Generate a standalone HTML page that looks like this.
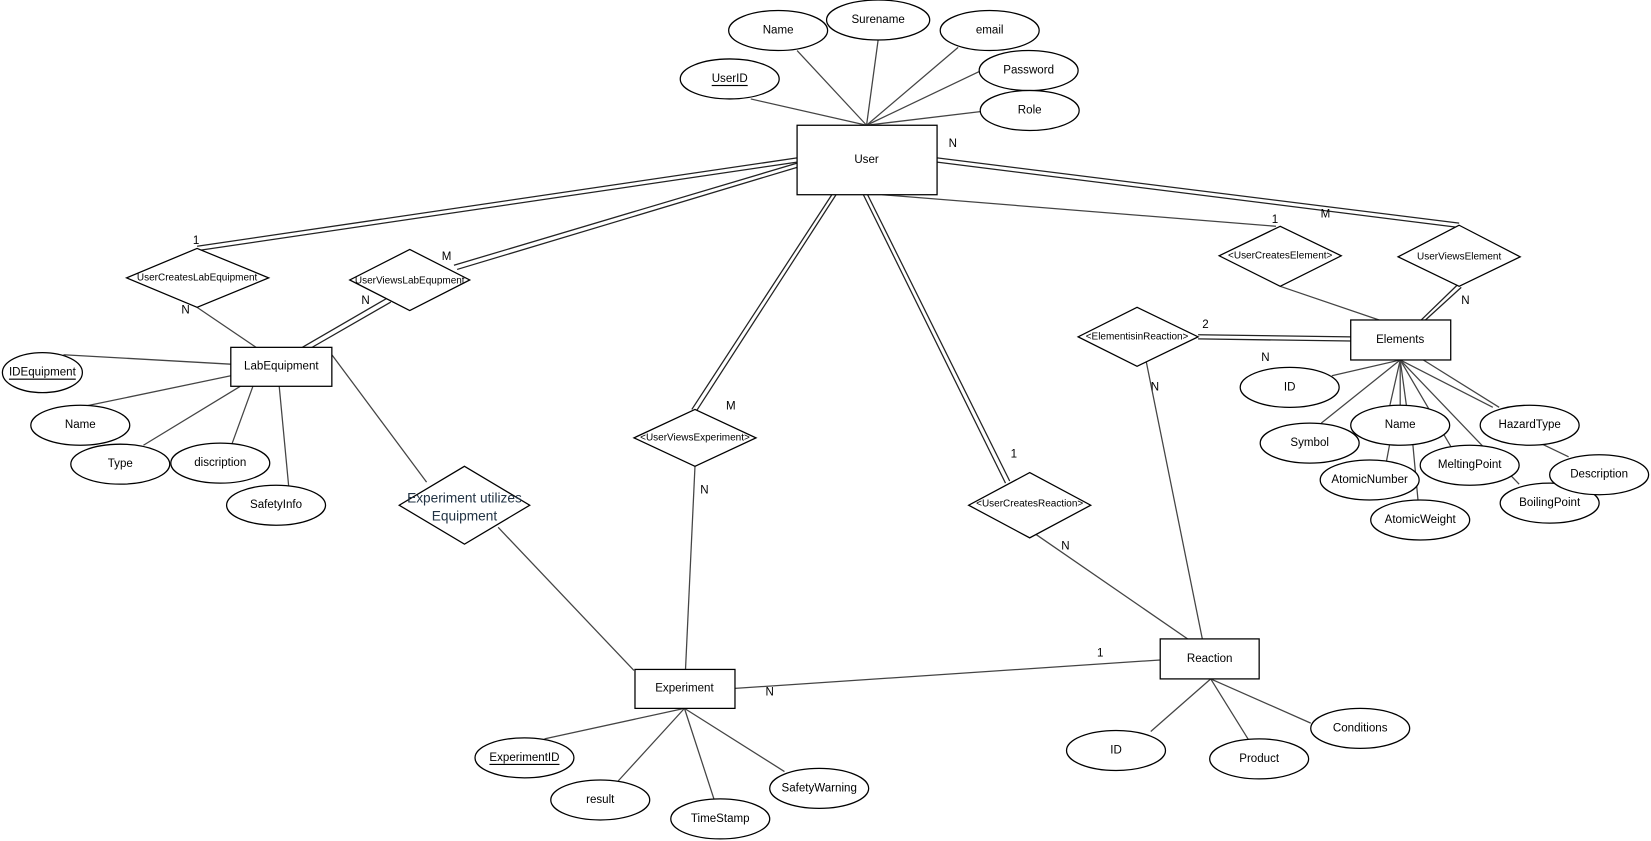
<!DOCTYPE html>
<html><head><meta charset="utf-8"><style>
html,body{margin:0;padding:0;background:#fff;}
svg{display:block;}
text{font-family:"Liberation Sans",sans-serif;font-size:11px;fill:#000;text-anchor:middle;dominant-baseline:central;}
.d{font-size:9.5px;}
</style></head><body>
<svg width="1651" height="841" viewBox="0 0 1568 799" xmlns="http://www.w3.org/2000/svg">
<g stroke="#444" stroke-width="1.2" fill="none">
<line x1="713" y1="94" x2="823" y2="119"/>
<line x1="757" y1="48" x2="823" y2="119"/>
<line x1="834" y1="38" x2="823" y2="119"/>
<line x1="910" y1="45" x2="823" y2="119"/>
<line x1="930" y1="68" x2="823" y2="119"/>
<line x1="931" y1="106" x2="823" y2="119"/>
<g stroke="#222">
<line x1="757" y1="150" x2="187" y2="234"/><line x1="757" y1="154" x2="188" y2="238"/>
<line x1="757" y1="155" x2="431" y2="252"/><line x1="757" y1="159" x2="434" y2="256"/>
<line x1="368" y1="283" x2="287" y2="330"/><line x1="371" y1="287" x2="291" y2="333"/>
<line x1="790" y1="185" x2="657" y2="389"/><line x1="794" y1="185" x2="661" y2="391"/>
<line x1="820" y1="185" x2="955" y2="459"/><line x1="824" y1="185" x2="959" y2="457"/>
<line x1="890" y1="150" x2="1386" y2="212"/><line x1="890" y1="154" x2="1385" y2="216"/>
<line x1="1384" y1="271" x2="1350" y2="304"/><line x1="1388" y1="273" x2="1354" y2="304"/>
<line x1="1138" y1="318" x2="1283" y2="320"/><line x1="1138" y1="322" x2="1283" y2="324"/>
</g>
<line x1="187" y1="292" x2="243" y2="330"/>
<line x1="838" y1="185" x2="1212" y2="215"/>
<line x1="1216" y1="272" x2="1310" y2="304"/>
<line x1="1088" y1="340" x2="1142" y2="607"/>
<line x1="980" y1="505" x2="1128" y2="607"/>
<line x1="698" y1="654" x2="1102" y2="627"/>
<line x1="660" y1="443" x2="651" y2="636"/>
<line x1="315" y1="337" x2="405" y2="458"/>
<line x1="473" y1="501" x2="602" y2="637"/>
<line x1="219" y1="346" x2="60" y2="337"/>
<line x1="219" y1="357" x2="80" y2="386"/>
<line x1="228" y1="367" x2="136" y2="423"/>
<line x1="240" y1="367" x2="220" y2="422"/>
<line x1="265" y1="367" x2="274" y2="462"/>
<line x1="650" y1="673" x2="517" y2="702"/>
<line x1="650" y1="673" x2="587" y2="742"/>
<line x1="650" y1="673" x2="678" y2="759"/>
<line x1="650" y1="673" x2="745" y2="733"/>
<line x1="1150" y1="645" x2="1093" y2="695"/>
<line x1="1150" y1="645" x2="1186" y2="703"/>
<line x1="1150" y1="645" x2="1245" y2="687"/>
<line x1="1330" y1="342" x2="1265" y2="357"/>
<line x1="1330" y1="342" x2="1255" y2="402"/>
<line x1="1330" y1="342" x2="1320" y2="386"/>
<line x1="1330" y1="342" x2="1330" y2="386"/>
<line x1="1330" y1="342" x2="1336" y2="386"/>
<line x1="1330" y1="342" x2="1378" y2="424"/>
<line x1="1330" y1="342" x2="1443" y2="460"/>
<line x1="1330" y1="342" x2="1418" y2="387"/>
<line x1="1352" y1="342" x2="1424" y2="387"/>
<line x1="1320" y1="422" x2="1317" y2="438"/>
<line x1="1342" y1="422" x2="1347" y2="476"/>
<line x1="1465" y1="422" x2="1490" y2="434"/>
</g>
<g stroke="#000" stroke-width="1.2" fill="#fff">
<rect x="757" y="119" width="133" height="66"/>
<rect x="219" y="330" width="96" height="37"/>
<rect x="603" y="636" width="95" height="37"/>
<rect x="1102" y="607" width="94" height="38"/>
<rect x="1283" y="304" width="95" height="38"/>
<polygon points="187,236 255,264 187,292 120,264"/>
<polygon points="389,237 446,266 389,295 332,266"/>
<polygon points="441,443 503,480 441,517 379,480"/>
<polygon points="660,389 718,416 660,443 602,416"/>
<polygon points="978,449 1036,480 978,511 920,480"/>
<polygon points="1080,292 1138,320 1080,348 1024,320"/>
<polygon points="1216,215 1274,243 1216,272 1158,243"/>
<polygon points="1386,214 1444,244 1386,272 1328,244"/>
<ellipse cx="693" cy="75" rx="47" ry="19"/>
<ellipse cx="739" cy="29" rx="47" ry="19"/>
<ellipse cx="834" cy="19" rx="49" ry="19"/>
<ellipse cx="940" cy="29" rx="47" ry="19"/>
<ellipse cx="977" cy="67" rx="47" ry="19"/>
<ellipse cx="978" cy="105" rx="47" ry="19"/>
<ellipse cx="40" cy="354" rx="38" ry="19"/>
<ellipse cx="76" cy="404" rx="47" ry="19"/>
<ellipse cx="114" cy="441" rx="47" ry="19"/>
<ellipse cx="209" cy="440" rx="47" ry="19"/>
<ellipse cx="262" cy="480" rx="47" ry="19"/>
<ellipse cx="498" cy="720" rx="47" ry="19"/>
<ellipse cx="570" cy="760" rx="47" ry="19"/>
<ellipse cx="684" cy="778" rx="47" ry="19"/>
<ellipse cx="778" cy="749" rx="47" ry="19"/>
<ellipse cx="1060" cy="713" rx="47" ry="19"/>
<ellipse cx="1196" cy="721" rx="47" ry="19"/>
<ellipse cx="1292" cy="692" rx="47" ry="19"/>
<ellipse cx="1225" cy="368" rx="47" ry="19"/>
<ellipse cx="1244" cy="421" rx="47" ry="19"/>
<ellipse cx="1301" cy="456" rx="47" ry="19"/>
<ellipse cx="1349" cy="494" rx="47" ry="19"/>
<ellipse cx="1396" cy="442" rx="47" ry="19"/>
<ellipse cx="1472" cy="478" rx="47" ry="19"/>
<ellipse cx="1519" cy="451" rx="47" ry="19"/>
<ellipse cx="1330" cy="404" rx="47" ry="19"/>
<ellipse cx="1453" cy="404" rx="47" ry="19"/>
</g>
<text x="823" y="152">User</text>
<text x="267" y="348">LabEquipment</text>
<text x="650" y="654">Experiment</text>
<text x="1149" y="626">Reaction</text>
<text x="1330" y="323">Elements</text>
<text class="d" x="187" y="264">UserCreatesLabEquipment</text>
<text class="d" x="389" y="267">UserViewsLabEqupment</text>
<text x="441" y="473" style="font-size:13px;fill:#234">Experiment utilizes</text>
<text x="441" y="490" style="font-size:13px;fill:#234">Equipment</text>
<text class="d" x="660" y="416">&lt;UserViewsExperiment&gt;</text>
<text class="d" x="978" y="479">&lt;UserCreatesReaction&gt;</text>
<text class="d" x="1080" y="320">&lt;ElementisinReaction&gt;</text>
<text class="d" x="1216" y="243">&lt;UserCreatesElement&gt;</text>
<text class="d" x="1386" y="244">UserViewsElement</text>
<text x="693" y="75" text-decoration="underline">UserID</text>
<text x="739" y="29">Name</text>
<text x="834" y="19">Surename</text>
<text x="940" y="29">email</text>
<text x="977" y="67">Password</text>
<text x="978" y="105">Role</text>
<text x="40" y="354" text-decoration="underline">IDEquipment</text>
<text x="76" y="404">Name</text>
<text x="114" y="441">Type</text>
<text x="209" y="440">discription</text>
<text x="262" y="480">SafetyInfo</text>
<text x="498" y="720" text-decoration="underline">ExperimentID</text>
<text x="570" y="760">result</text>
<text x="684" y="778">TimeStamp</text>
<text x="778" y="749">SafetyWarning</text>
<text x="1060" y="713">ID</text>
<text x="1196" y="721">Product</text>
<text x="1292" y="692">Conditions</text>
<text x="1225" y="368">ID</text>
<text x="1244" y="421">Symbol</text>
<text x="1330" y="404">Name</text>
<text x="1301" y="456">AtomicNumber</text>
<text x="1349" y="494">AtomicWeight</text>
<text x="1396" y="442">MeltingPoint</text>
<text x="1453" y="404">HazardType</text>
<text x="1519" y="451">Description</text>
<text x="1472" y="478">BoilingPoint</text>
<text x="905" y="137">N</text>
<text x="186" y="229">1</text>
<text x="176" y="295">N</text>
<text x="424" y="244">M</text>
<text x="347" y="286">N</text>
<text x="694" y="386">M</text>
<text x="669" y="466">N</text>
<text x="731" y="658">N</text>
<text x="1045" y="621">1</text>
<text x="963" y="432">1</text>
<text x="1012" y="519">N</text>
<text x="1145" y="309">2</text>
<text x="1202" y="340">N</text>
<text x="1097" y="368">N</text>
<text x="1211" y="209">1</text>
<text x="1259" y="204">M</text>
<text x="1392" y="286">N</text>
</svg>
</body></html>
